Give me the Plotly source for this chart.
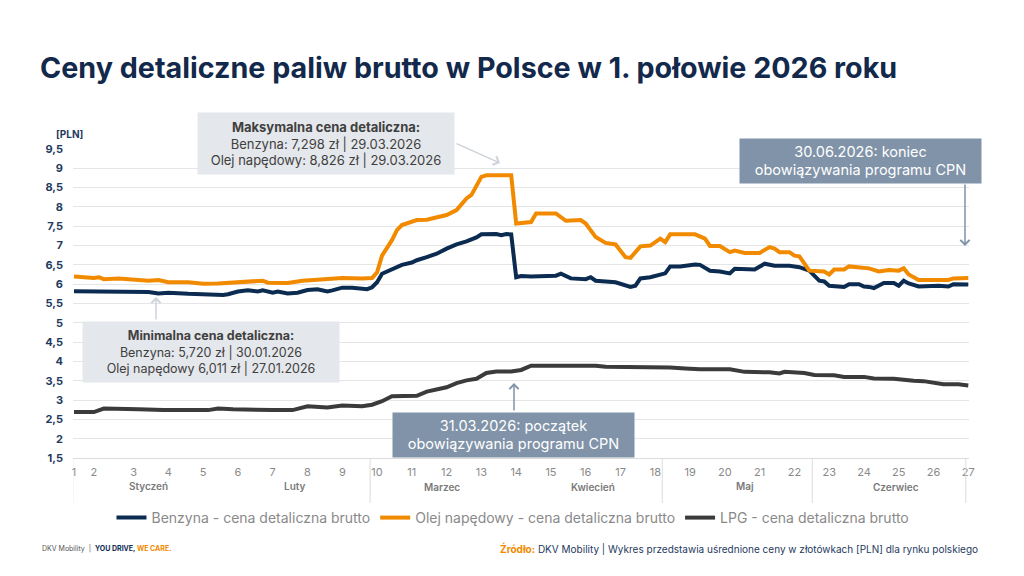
import pandas as pd
import plotly.graph_objects as go

# dni liczone od 1 stycznia 2026
start = pd.Timestamp("2026-01-01")

benz_day = [0, 3, 4, 8, 11, 15, 17, 19, 23, 26, 28, 29, 30, 31, 33, 35, 37, 38, 40, 41,
            43, 45, 47, 49, 51, 52, 54, 56, 58, 59, 60, 61, 62, 64, 65, 66, 68, 69, 71, 73,
            75, 77, 79, 81, 82, 85, 86, 87, 88, 89, 90, 92, 97, 98, 100, 103, 104, 105, 107, 109,
            112, 113, 114, 116, 119, 120, 122, 125, 126, 128, 130, 132, 133, 137, 139, 141, 144, 146, 148, 150,
            151, 152, 155, 156, 158, 159, 160, 161, 163, 165, 166, 167, 168, 170, 174, 176, 177, 180]
benz_val = [5.82, 5.82, 5.80, 5.81, 5.82, 5.80, 5.76, 5.78, 5.75, 5.74, 5.73, 5.72, 5.72, 5.74, 5.81, 5.84, 5.81, 5.84, 5.78, 5.81,
            5.76, 5.78, 5.85, 5.87, 5.81, 5.84, 5.91, 5.91, 5.87, 5.87, 5.92, 6.05, 6.27, 6.39, 6.45, 6.50, 6.56, 6.62, 6.70, 6.79,
            6.92, 7.03, 7.11, 7.21, 7.29, 7.30, 7.27, 7.298, 7.29, 6.18, 6.21, 6.20, 6.22, 6.27, 6.15, 6.13, 6.18, 6.09, 6.07, 6.05,
            5.93, 5.96, 6.15, 6.18, 6.28, 6.46, 6.46, 6.51, 6.50, 6.35, 6.33, 6.28, 6.40, 6.38, 6.53, 6.48, 6.48, 6.44, 6.35, 6.09,
            6.07, 5.96, 5.93, 6.00, 6.00, 5.94, 5.93, 5.90, 6.03, 6.03, 5.96, 6.09, 6.02, 5.94, 5.96, 5.94, 6.00, 5.99]

on_day = [0, 2, 4, 5, 6, 9, 13, 15, 17, 19, 23, 26, 29, 33, 38, 39, 43, 46, 52, 54,
          58, 60, 61, 62, 64, 65, 66, 68, 69, 71, 73, 75, 77, 78, 79, 80, 81, 82, 83, 87,
          88, 89, 92, 93, 97, 99, 102, 103, 105, 107, 109, 111, 112, 114, 116, 118, 119, 120, 125, 127,
          128, 130, 132, 133, 135, 138, 140, 141, 142, 144, 145, 146, 148, 151, 152, 153, 155, 156, 159, 160,
          162, 164, 166, 167, 168, 170, 176, 177, 180]
on_val = [6.20, 6.17, 6.16, 6.18, 6.13, 6.15, 6.11, 6.09, 6.11, 6.05, 6.05, 6.01, 6.02, 6.06, 6.09, 6.04, 6.03, 6.09, 6.13, 6.16,
          6.15, 6.16, 6.31, 6.74, 7.14, 7.40, 7.53, 7.61, 7.66, 7.67, 7.73, 7.79, 7.92, 8.09, 8.22, 8.31, 8.52, 8.78, 8.82, 8.826,
          8.82, 7.57, 7.61, 7.83, 7.83, 7.64, 7.66, 7.57, 7.22, 7.07, 7.03, 6.70, 6.68, 6.98, 7.00, 7.18, 7.09, 7.29, 7.29, 7.18,
          6.99, 6.99, 6.83, 6.87, 6.81, 6.81, 6.96, 6.92, 6.83, 6.83, 6.74, 6.72, 6.35, 6.33, 6.25, 6.38, 6.38, 6.46, 6.44, 6.41,
          6.33, 6.37, 6.35, 6.41, 6.25, 6.11, 6.11, 6.15, 6.16]

lpg_day = [0, 4, 6, 10, 13, 18, 27, 29, 32, 40, 44, 47, 51, 54, 58, 60, 62, 64, 67, 69,
           71, 73, 75, 77, 79, 81, 83, 85, 88, 90, 92, 95, 105, 107, 112, 114, 120, 123, 126, 132,
           135, 140, 142, 143, 147, 149, 153, 155, 159, 161, 165, 169, 171, 175, 178, 180]
lpg_val = [2.69, 2.69, 2.78, 2.78, 2.76, 2.74, 2.74, 2.78, 2.76, 2.74, 2.74, 2.84, 2.81, 2.86, 2.84, 2.88, 2.97, 3.10, 3.11, 3.11,
           3.22, 3.27, 3.33, 3.44, 3.51, 3.55, 3.70, 3.74, 3.74, 3.78, 3.89, 3.89, 3.89, 3.86, 3.86, 3.84, 3.84, 3.82, 3.80, 3.80,
           3.73, 3.72, 3.69, 3.73, 3.70, 3.65, 3.64, 3.60, 3.60, 3.56, 3.55, 3.50, 3.49, 3.41, 3.41, 3.38]

week_labels = [str(w) for w in range(1, 28)]
month_labels = ["Styczeń", "Luty", "Marzec", "Kwiecień", "Maj", "Czerwiec"]
y_ticks = [1.5 + 0.5 * i for i in range(17)]


def to_date(d):
    return start + pd.Timedelta(days=d)


def px(x):
    return (x - 73) / 896


def py(y):
    return (458 - y) / 309


navy = "#0c2b50"
orange = "#f28a00"
lpg_c = "#3b3b3b"
grey_txt = "#8a8a8a"
font = "Inter"

fig = go.Figure()
for name, days, vals, col in [
    ("Benzyna - cena detaliczna brutto", benz_day, benz_val, navy),
    ("Olej napędowy - cena detaliczna brutto", on_day, on_val, orange),
    ("LPG - cena detaliczna brutto", lpg_day, lpg_val, lpg_c),
]:
    fig.add_trace(go.Scatter(
        x=[to_date(d) for d in days], y=vals, name=name, mode="lines",
        line=dict(color=col, width=4),
    ))

# pozycje osi
week_pos = [0, 4] + [12 + 7 * k for k in range(25)]
month_pos = [15, 44.5, 74, 104.5, 135, 165.5]
sep_pos = [-0.25, 59.6, 118.4, 148.6, 179.5]

shapes = [dict(type="line", xref="x", yref="paper", x0=to_date(d), x1=to_date(d),
               y0=0, y1=py(503), line=dict(color="#dcdcdc", width=1)) for d in sep_pos]

annotations = []
for lab, d in zip(month_labels, month_pos):
    annotations.append(dict(xref="x", yref="paper", x=to_date(d), y=py(495), text=lab,
                            showarrow=False, font=dict(family=font, size=10, color="#7a7a7a", weight=600)))

annotations.append(dict(xref="paper", yref="paper", x=px(54), y=py(126), text="[PLN]", showarrow=False,
                        font=dict(family=font, size=10, color="#1f3a60", weight="bold")))

annotations.append(dict(xref="paper", yref="paper", x=px(38), y=py(67), xanchor="left", yanchor="middle",
                        showarrow=False, text="<b>Ceny detaliczne paliw brutto w Polsce w 1. połowie 2026 roku</b>",
                        font=dict(family=font, size=28.7, color="#13294b")))

# ramki z opisami
boxes = [
    ((326, 143.5), 256, 61, "<b>Maksymalna cena detaliczna:</b><br>Benzyna: 7,298 zł | 29.03.2026<br>Olej napędowy: 8,826 zł | 29.03.2026",
     "#e4e7eb", "#404040", 13),
    ((211, 352), 256, 60, "<b>Minimalna cena detaliczna:</b><br>Benzyna: 5,720 zł | 30.01.2026<br>Olej napędowy 6,011 zł | 27.01.2026",
     "#e4e7eb", "#404040", 12.5),
    ((513.5, 435), 241, 44, "31.03.2026: początek<br>obowiązywania programu CPN", "#8093a8", "white", 14.5),
    ((860.5, 161), 241, 44, "30.06.2026: koniec<br>obowiązywania programu CPN", "#8093a8", "white", 14.5),
]
for (cx, cy), w, h, txt, bg, fc, fs in boxes:
    annotations.append(dict(xref="paper", yref="paper", x=px(cx), y=py(cy), xanchor="center", yanchor="middle",
                            width=w, height=h, bgcolor=bg, borderpad=0, text=txt, showarrow=False, align="center",
                            font=dict(family=font, size=fs, color=fc)))

arrows = [((500, 163), (455, 143), "#cdd3db"), ((156, 297), (156, 321), "#cdd3db"),
          ((514, 383), (514, 412), "#8093a8"), ((965, 246), (965, 183), "#8093a8")]
for (tx, ty), (sx, sy), col in arrows:
    annotations.append(dict(xref="paper", yref="paper", x=px(tx), y=py(ty), ax=sx - tx, ay=sy - ty,
                            text="", showarrow=True, arrowhead=4, arrowsize=1.2, arrowwidth=1.5, arrowcolor=col))

annotations.append(dict(xref="paper", yref="paper", x=px(40), y=py(548), xanchor="left", yanchor="middle", showarrow=False,
                        text="DKV Mobility  |  <b><span style='color:#0c2b50'>YOU DRIVE,</span> <span style='color:#f28a00'>WE CARE.</span></b>",
                        font=dict(family=font, size=7, color="#555555")))
annotations.append(dict(xref="paper", yref="paper", x=px(980), y=py(548), xanchor="right", yanchor="middle", showarrow=False,
                        text="<b><span style='color:#f28a00'>Źródło:</span></b> DKV Mobility | Wykres przedstawia uśrednione ceny w złotówkach [PLN] dla rynku polskiego",
                        font=dict(family=font, size=10, color="#1f3a60")))

# strona html ma 8 px marginesu, wiec obszar wykresu przesuniety o 8 px
fig.update_layout(
    width=1024, height=576,
    margin=dict(l=65, r=63, t=141, b=126),
    paper_bgcolor="white", plot_bgcolor="white",
    xaxis=dict(type="date", range=[to_date(-0.2), to_date(180.14)], automargin=False,
               tickmode="array", tickvals=[to_date(d) for d in week_pos], ticktext=week_labels,
               tickfont=dict(family=font, size=11, color=grey_txt), showgrid=False,
               showline=True, linecolor="#dcdcdc", linewidth=1, ticks="", ticklabelstandoff=4),
    yaxis=dict(range=[1.5, 9.5], tickmode="array", tickvals=y_ticks, automargin=False,
               ticktext=[("%g" % v).replace(".", ",") for v in y_ticks],
               tickfont=dict(family=font, size=11, color="#1f3a60", weight="bold"),
               gridcolor="#e5e5e5", gridwidth=1, zeroline=False, ticklabelstandoff=9),
    legend=dict(orientation="h", x=px(513), xanchor="center", y=py(518), yanchor="middle",
                font=dict(family=font, size=14, color=grey_txt), itemwidth=30, bgcolor="rgba(0,0,0,0)"),
    shapes=shapes,
    annotations=annotations,
    hovermode="x unified",
)

fig.write_html("out.html")
